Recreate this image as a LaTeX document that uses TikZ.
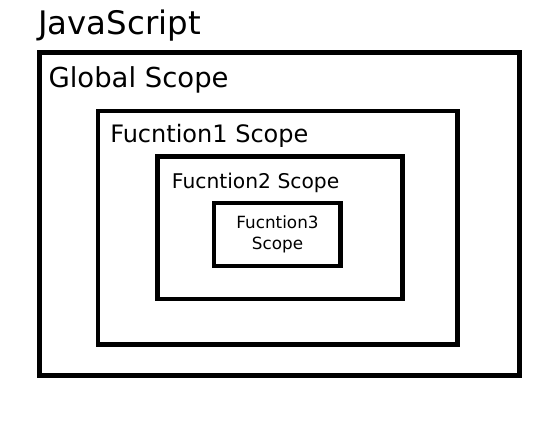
\documentclass[tikz,border=0pt]{standalone}
\usepackage{fontspec}
\setmainfont{DejaVu Sans}
\usepackage{tikz}
\usetikzlibrary{positioning}
\tikzset{
  scopebox/.style={draw=black,line width=3.4pt,inner sep=0pt},
  scopelbl/.style={anchor=base west,inner sep=0pt},
}

\begin{document}
\begin{tikzpicture}[x=0.75pt,y=-0.75pt]
  \useasboundingbox (0,0) rectangle (560,428);
  \node[scopebox,minimum width=360pt,minimum height=242.25pt] (sGlobal) at (279.5,214) {};
  \node[scopebox,minimum width=269.6pt,minimum height=175.1pt] (sFn1) at (277.75,227.75) {};
  \node[scopebox,minimum width=183.75pt,minimum height=106.9pt] (sFn2) at (280,227.75) {};
  \node[scopebox,minimum width=95pt,minimum height=47.25pt] (sFn3) at (277.35,234.5) {};
  \node[scopelbl,font=\fontsize{24.3}{28}\selectfont] (lJs) at (38,35) {JavaScript};
  \node[scopelbl,font=\fontsize{20.6}{24}\selectfont] (lGlobal) at (48.3,87.3) {Global Scope};
  \node[scopelbl,font=\fontsize{18}{22}\selectfont] (lFn1) at (110,142.7) {Fucntion1 Scope};
  \node[scopelbl,font=\fontsize{15.2}{19}\selectfont] (lFn2) at (171.7,188.3) {Fucntion2 Scope};
  \node[anchor=base,inner sep=0pt,align=center,font=\fontsize{12.6}{15.5}\selectfont] (lFn3) at (277.5,249) {Fucntion3\\Scope};
\end{tikzpicture}
\end{document}
